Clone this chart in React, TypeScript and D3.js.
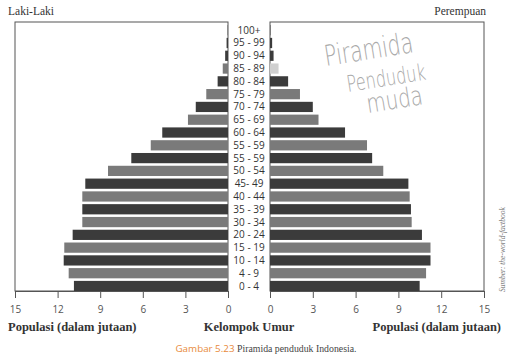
import React, { useEffect, useRef } from 'react';
import * as d3 from 'd3';

// age groups, top to bottom (as printed in the source, including the repeated 55 - 59)
const ageGroups = [
  '100+', '95 - 99', '90 - 94', '85 - 89', '80 - 84', '75 - 79', '70 - 74',
  '65 - 69', '60 - 64', '55 - 59', '55 - 59 ', '50 - 54', '45- 49', '40 - 44',
  '35 - 39', '30 - 34', '20 - 24', '15 - 19', '10 - 14', '4 - 9', '0 - 4',
];

// population in millions
const maleValues = [
  0.02, 0.1, 0.2, 0.37, 0.73, 1.53, 2.27, 2.82, 4.63, 5.44, 6.81, 8.45,
  10.05, 10.26, 10.26, 10.26, 10.94, 11.53, 11.57, 11.22, 10.85,
];
const femaleValues = [
  0.03, 0.15, 0.25, 0.6, 1.27, 2.1, 3.0, 3.4, 5.26, 6.8, 7.16, 7.94,
  9.7, 9.79, 9.88, 9.93, 10.65, 11.25, 11.25, 10.94, 10.49,
];

const tickValues = [0, 3, 6, 9, 12, 15];

const App = () => {
  const ref = useRef<SVGSVGElement>(null);

  useEffect(() => {
    const svg = d3.select(ref.current);
    svg.selectAll('*').remove();

    const serif = '"Liberation Serif", "DejaVu Serif", serif';
    const sans = '"Open Sans", "Noto Sans", sans-serif';

    const xL = d3.scaleLinear().domain([0, 15]).range([228, 15]);
    const xR = d3.scaleLinear().domain([0, 15]).range([270, 484]);
    const y = d3.scaleBand<string>().domain(ageGroups).range([23.8, 292.4]).paddingInner(0.2).paddingOuter(0.1);

    const top = 22;
    const base = 291;

    const dark = '#3b3b3b';
    const mid = '#7a7a7a';
    // shading alternates; the top rows are dark, 85-89 is lighter (very light on the right)
    const shade = (i: number, side: string) => {
      if (i === 3) return side === 'L' ? mid : '#d0d0d0';
      if (i < 4) return dark;
      return i % 2 === 0 ? dark : mid;
    };

    // panel frames
    svg.append('rect').attr('x', xL(15)).attr('y', top).attr('width', xL(0) - xL(15)).attr('height', base - top)
      .attr('fill', 'none').attr('stroke', '#555').attr('stroke-width', 1);
    svg.append('rect').attr('x', xR(0)).attr('y', top).attr('width', xR(15) - xR(0)).attr('height', base - top)
      .attr('fill', 'none').attr('stroke', '#555').attr('stroke-width', 1);

    // bars
    svg.append('g').selectAll('rect').data(maleValues).join('rect')
      .attr('x', (d) => xL(d))
      .attr('y', (_, i) => y(ageGroups[i])!)
      .attr('width', (d) => xL(0) - xL(d))
      .attr('height', y.bandwidth())
      .attr('fill', (_, i) => shade(i, 'L'));

    svg.append('g').selectAll('rect').data(femaleValues).join('rect')
      .attr('x', xR(0))
      .attr('y', (_, i) => y(ageGroups[i])!)
      .attr('width', (d) => xR(d) - xR(0))
      .attr('height', y.bandwidth())
      .attr('fill', (_, i) => shade(i, 'R'));

    // age labels
    svg.append('g').selectAll('text').data(ageGroups).join('text')
      .attr('x', 249)
      .attr('y', (d) => y(d)! + y.bandwidth() / 2)
      .attr('dy', '0.35em')
      .attr('text-anchor', 'middle')
      .attr('font-family', sans)
      .attr('font-size', 10)
      .attr('fill', '#333')
      .text((d) => d.trim());

    // axes
    const axL = svg.append('g').attr('transform', `translate(0,${base})`)
      .call(d3.axisBottom(xL).tickValues(tickValues).tickSize(7).tickPadding(8));
    const axR = svg.append('g').attr('transform', `translate(0,${base})`)
      .call(d3.axisBottom(xR).tickValues(tickValues).tickSize(7).tickPadding(8));
    [axL, axR].forEach((ax) => {
      ax.select('.domain').attr('stroke', '#555');
      ax.selectAll('line').attr('stroke', '#555');
      ax.selectAll('text').attr('font-family', sans).attr('font-size', 10).attr('fill', '#555');
    });

    // titles
    svg.append('text').attr('x', 8).attr('y', 15).attr('font-family', serif).attr('font-size', 11.5)
      .attr('fill', '#333').text('Laki-Laki');
    svg.append('text').attr('x', 486).attr('y', 15).attr('text-anchor', 'end').attr('font-family', serif)
      .attr('font-size', 11.5).attr('fill', '#333').text('Perempuan');

    svg.append('text').attr('x', 8).attr('y', 331).attr('font-family', serif).attr('font-size', 12.5)
      .attr('font-weight', 'bold').attr('fill', '#333').text('Populasi (dalam jutaan)');
    svg.append('text').attr('x', 249).attr('y', 331).attr('text-anchor', 'middle').attr('font-family', serif)
      .attr('font-size', 12.5).attr('font-weight', 'bold').attr('fill', '#333').text('Kelompok Umur');
    svg.append('text').attr('x', 501).attr('y', 331).attr('text-anchor', 'end').attr('font-family', serif)
      .attr('font-size', 12.5).attr('font-weight', 'bold').attr('fill', '#333').text('Populasi (dalam jutaan)');

    // source, rotated
    svg.append('text').attr('transform', 'translate(505,292) rotate(-90)')
      .attr('font-family', serif).attr('font-style', 'italic').attr('font-size', 7.5).attr('fill', '#777')
      .text('Sumber: the-world-factbook');

    // caption
    const cap = svg.append('text').attr('x', 266).attr('y', 352).attr('text-anchor', 'middle').attr('font-size', 9.8);
    cap.append('tspan').attr('font-family', sans).attr('fill', '#e88a3c').text('Gambar 5.23 ');
    cap.append('tspan').attr('font-family', serif).attr('fill', '#444').text('Piramida penduduk Indonesia.');

    // handwritten note
    const note = svg.append('g').attr('fill', '#aaa')
      .attr('font-family', '"DejaVu Sans", sans-serif').attr('font-weight', 200);
    note.append('text').attr('transform', 'translate(326,66) rotate(-9) scale(0.85,1.2)').attr('font-size', 24).text('Piramida');
    note.append('text').attr('transform', 'translate(348,92) rotate(-9) scale(0.85,1.2)').attr('font-size', 19).text('Penduduk');
    note.append('text').attr('transform', 'translate(368,113) rotate(-9) scale(0.9,1.2)').attr('font-size', 22).text('muda');
  }, []);

  return (
    <svg ref={ref} width={515} height={364} style={{ position: 'absolute', left: 0, top: 0, background: '#fff' }} />
  );
};

export default App;
